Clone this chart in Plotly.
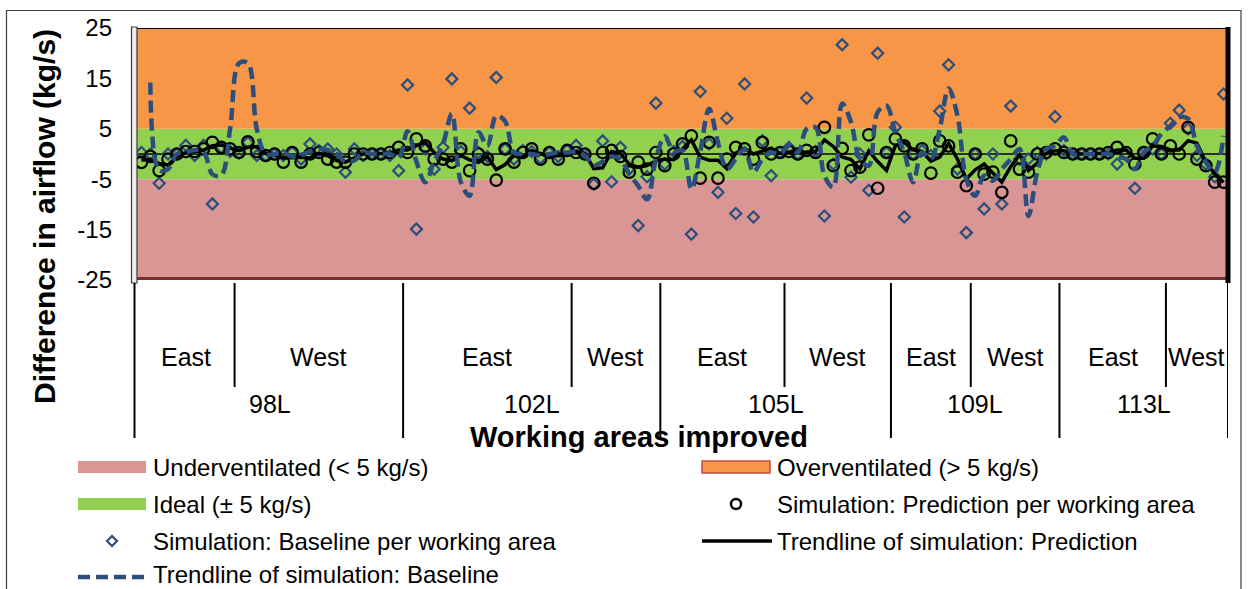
import plotly.graph_objects as go

# ---------------- data ----------------
LEVELS = ["98L", "102L", "105L", "109L", "113L"]
SIDES = ["East", "West"]
AREA_COUNTS = [[11, 19], [19, 10], [14, 12], [9, 10], [12, 7]]   # working areas per level/side

Y_TICKS = [25, 15, 5, -5, -15, -25]

BAND_NAMES = ["Underventilated (< 5 kg/s)", "Ideal (± 5 kg/s)", "Overventilated (> 5 kg/s)"]
BAND_LOW = [-25, -5, 5]
BAND_HIGH = [-5, 5, 25]

BASELINE = [
    0.3, 0, -5.8, 0, 0, 1.7, -0.3, 1.7, -9.9, 1.3, 0.5,
    0.2, 2.3, -0.3, -0.3, 0, -0.3, 0.3, -1, 2, 0.7, 1, 0, -3.6, 1, -0.3, 0, 0, -0.3, -3.3,
    13.7, -14.9, 1, -3, 1.3, 14.9, 0.5, 9.1, 0.3, -0.5, 15.2, 1, -1, 0.7, 0.5, -0.8, 0.3, -0.5, 0.7,
    1.7, 0, -6, 2.6, -5.5, 1.3, -3, -14.2, -4.5, 10.1,
    -2, 0.5, 1.5, -15.9, 12.4, 2, -7.6, 7.1, -11.8, 13.9, -12.5, 2.6, -4.3, 0.3,
    1.3, 0, 11.1, 0.5, -12.3, -2, 21.7, -4.6, 0, -7.2, 20, 0.3,
    5.3, -12.5, 0, 0.7, -0.3, 8.5, 17.7, -3, -15.6,
    0, -10.9, 0, -9.9, 9.5, -1, -1, 0.3, 0, 7.4,
    0.7, 0, 0, 0, 0, 0, -2, 0, -6.8, 0.3, 1, 0,
    6.1, 8.7, 5, -0.3, -2, -4.5, 11.9,
]

PREDICTION = [
    -1.65, -0.5, -3.3, -1, 0, 0.5, 0.5, 1, 2.3, 1.3, 1,
    0.3, 2.4, 0.5, -0.3, 0, -1.6, 0.3, -1.6, 0, 0.3, -1, -1.6, -1.6, 0, 0, 0, 0, 0.3, 1.3,
    0.3, 3, 1.6, -1, -1, -1.6, 1, -3.3, 0, -1, -5.2, 1, -1.6, 0.3, 1, -1, 0.3, -1, 0.7,
    0.3, 0, -5.8, 0.3, 0.7, -0.5, -3.6, -1.6, -3, 0.3,
    -2.3, 0, 2, 3.6, -4.8, 2.3, -4.8, -1, 1.3, 1, -1, 2.3, 0, 0.3,
    0.5, 0, 0.7, 0.3, 5.3, -2.3, 1.1, -3.3, -2.6, 3.8, -6.8, 0.3,
    3, 1.6, 0, 1, -3.8, 2.6, 1.6, -3.6, -6.3,
    0, -4, -3.6, -7.6, 2.6, -3, -3.6, 0, 0.3, 1,
    0.3, 0, 0, 0, 0, 0.3, 1.3, 0.3, -2, 0.3, 3, 0,
    1.6, 0, 5.3, -1, -2.3, -5.6, -5.6,
]

PREDICTION_TREND = [
    -1.2, -1.1, -1.9, -2.2, -0.5, 0.25, 0.5, 0.75, 1.65, 1.8, 1.15,
    0.65, 1.35, 1.45, 0.1, -0.15, -0.8, -0.65, -0.65, -0.8, 0.15, -0.35, -1.3, -1.6, -0.8, 0, 0, 0, 0.15, 0.8,
    0.8, 1.65, 2.3, 0.3, -1, -1.3, -0.3, -1.15, -1.65, -0.5, -3.1, -2.1, -0.3, -0.65, 0.65, 0, -0.35, -0.35, -0.15,
    0.5, 0.15, -2.9, -2.75, 0.5, 0.1, -2.05, -2.6, -2.3, -1.35,
    -1, -1.15, 1, 2.8, -0.6, -1.25, -1.25, -2.9, 0.15, 1.15, 0, 0.65, 1.15, 0.15,
    0.4, 0.25, 0.35, 0.5, 2.8, 1.5, -0.6, -1.1, -2.95, 0.6, -1.5, -3.25,
    1.65, 2.3, 0.8, 0.5, -1.4, -0.6, 2.1, -1, -4.95,
    -3.15, -2, -3.8, -5.6, -2.5, -0.2, -3.3, -1.8, 0.15, 0.65,
    0.65, 0.15, 0, 0, 0, 0.15, 0.8, 0.8, -0.85, -0.85, 1.65, 1.5,
    0.8, 0.8, 2.65, 2.15, -1.65, -3.95, -5.6,
]

BASELINE_TREND = [
    None, 14.2, -3.2, -3, 0, 0.3, 0.8, 0.5, -4, -4.2, 5,
    18, 18, 5, 0, 0, 0.3, -0.5, -0.2, 0.5, 1, 0.8, 0, -1.5, -1.3, 0.3, 0, 0, 0, -0.8,
    4.5, -1.5, -5.6, -1.5, 2, 8, -5.5, -8.3, 4.3, 1.6, 7.6, 6.5, 0.3, 0, 0, -0.3, 0, 0.3, 0.3,
    0.5, -0.3, -2.3, -1.5, -0.5, -1, -4, -6.3, -9, -1,
    3.5, 0.5, 0.7, -7, 0.5, 9, 2.3, -3, -1, 1, -3.6, -1, 0.3, 0,
    1.6, 0.3, 5, 5.3, -4.3, -6.6, 10, 6.3, -1, -2.3, 8.3, 9.6,
    4.3, 0.3, -5.6, 0.3, -1, 5, 13, 7.6, -5,
    -8.3, -4.3, -5.3, -3, -1, 1, -12.3, -3.6, 1, 1.6,
    3.3, 0, 0, 0, 0, 0, -0.5, -1, -3, 0.3, 1.6, 4,
    5.6, 7.3, 7, 1.6, -1.6, -3.6, 3.6,
]

# ---------------- styles ----------------
BAND_COLORS = ["#D99694", "#92D050", "#F79646"]
BLUE = "#2C4E7C"
FONT = "Liberation Sans, Arial, sans-serif"

N = len(BASELINE)
X = list(range(N))

# plot area in pixels (for layout-only helpers)
PL, PR, PT_, PB = 137, 1228, 28, 280
def px(v):
    return (v - PL) / (PR - PL)
def py(v):
    return (PB - v) / (PB - PT_)

fig = go.Figure()

# background bands (bars spanning every working area)
for name, lo, hi, col in zip(BAND_NAMES, BAND_LOW, BAND_HIGH, BAND_COLORS):
    fig.add_trace(go.Bar(
        x=[(N - 1) / 2], y=[hi - lo], base=[lo], width=[N],
        marker=dict(color=col, line=dict(width=0)),
        name=name, showlegend=False, hoverinfo="skip"))

# zero line
fig.add_trace(go.Scatter(x=[-0.5, N - 0.5], y=[0, 0], mode="lines",
                         line=dict(color="black", width=1.6),
                         showlegend=False, hoverinfo="skip"))

fig.add_trace(go.Scatter(
    x=X, y=BASELINE, mode="markers", name="Simulation: Baseline per working area",
    marker=dict(symbol="diamond-open", size=8.5, color=BLUE, line=dict(width=2.2, color=BLUE)),
    showlegend=False))

fig.add_trace(go.Scatter(
    x=X, y=PREDICTION, mode="markers", name="Simulation: Prediction per working area",
    marker=dict(symbol="circle-open", size=11.5, color="black", line=dict(width=2.2, color="black")),
    showlegend=False))

fig.add_trace(go.Scatter(
    x=X, y=PREDICTION_TREND, mode="lines", name="Trendline of simulation: Prediction",
    line=dict(color="black", width=3.5), showlegend=False))

fig.add_trace(go.Scatter(
    x=X, y=BASELINE_TREND, mode="lines", name="Trendline of simulation: Baseline",
    line=dict(color=BLUE, width=4.5, dash="12px,6px", shape="spline", smoothing=1.0),
    showlegend=False))

shapes = []
annotations = []

# plot frame details
shapes.append(dict(type="line", xref="paper", yref="y", x0=px(131), x1=1, y0=25, y1=25,
                   line=dict(color="black", width=2), layer="above"))
shapes.append(dict(type="line", xref="paper", yref="y", x0=0, x1=1, y0=-25, y1=-25,
                   line=dict(color="#782E2C", width=6), layer="above"))
shapes.append(dict(type="line", xref="paper", yref="paper", x0=1, x1=1, y0=py(283), y1=py(27),
                   line=dict(color="black", width=5), layer="above"))
shapes.append(dict(type="rect", xref="paper", yref="paper", x0=px(131.5), x1=px(137), y0=py(283), y1=py(27),
                   line=dict(color="#3a3a3a", width=1.2), fillcolor="#ECECEC", layer="above"))

# outer chart frame
shapes.append(dict(type="rect", xref="paper", yref="paper", x0=px(6.5), x1=px(1241), y0=py(640), y1=py(10.5),
                   line=dict(color="#404040", width=1.2), fillcolor="rgba(0,0,0,0)", layer="above"))

# category dividers and labels
LABEL_FONT = dict(size=25, color="black", family=FONT)
start = 0
level_bounds = [start]
for li, (lev, counts) in enumerate(zip(LEVELS, AREA_COUNTS)):
    lev_start = start
    for si, (side, cnt) in enumerate(zip(SIDES, counts)):
        s0, s1 = start, start + cnt
        annotations.append(dict(x=(s0 + s1 - 1) / 2, y=py(357), xref="x", yref="paper",
                                xanchor="center", yanchor="middle",
                                text=side, showarrow=False, font=LABEL_FONT))
        if si == 0:
            shapes.append(dict(type="line", xref="x", yref="paper", x0=s1 - 0.5, x1=s1 - 0.5,
                               y0=py(283), y1=py(387), line=dict(color="black", width=2)))
        start = s1
    annotations.append(dict(x=(lev_start + start - 1) / 2, y=py(404), xref="x", yref="paper",
                            xanchor="center", yanchor="middle",
                            text=lev, showarrow=False, font=LABEL_FONT))
    level_bounds.append(start)

for b in level_bounds:
    if b == 0:
        shapes.append(dict(type="line", xref="paper", yref="paper", x0=px(134.5), x1=px(134.5),
                           y0=py(283), y1=py(438), line=dict(color="black", width=2)))
    else:
        shapes.append(dict(type="line", xref="x", yref="paper", x0=b - 0.5, x1=b - 0.5,
                           y0=py(283), y1=py(438), line=dict(color="black", width=2)))

# axis titles
annotations.append(dict(x=px(639), y=py(437), xref="paper", yref="paper",
                        xanchor="center", yanchor="middle",
                        text="<b>Working areas improved</b>", showarrow=False,
                        font=dict(size=29, color="black", family=FONT)))
annotations.append(dict(x=px(44), y=py(217), xref="paper", yref="paper", textangle=-90,
                        xanchor="center", yanchor="middle",
                        text="<b>Difference in airflow (kg/s)</b>", showarrow=False,
                        font=dict(size=30, color="black", family=FONT)))

# legend (drawn manually in two columns)
LEG_FONT = dict(size=24, color="black", family=FONT)
def legend_text(xpix, ypix, text, anchor="middle"):
    annotations.append(dict(x=px(xpix), y=py(ypix), xref="paper", yref="paper", text=text,
                            showarrow=False, xanchor="left", yanchor=anchor, borderpad=0,
                            font=LEG_FONT))

def legend_rect(x0, x1, yc, fill, line_col=None):
    shapes.append(dict(type="rect", xref="paper", yref="paper", x0=px(x0), x1=px(x1),
                       y0=py(yc + 6), y1=py(yc - 6), fillcolor=fill,
                       line=dict(color=line_col or fill, width=1.5 if line_col else 0)))

rows = [467, 504, 541, 577]
LX, RX = 152, 776
legend_rect(78, 146, rows[0], BAND_COLORS[0])
legend_text(LX, rows[0], BAND_NAMES[0])
legend_rect(78, 146, rows[1], BAND_COLORS[1])
legend_text(LX, rows[1], BAND_NAMES[1])
# diamond
dcx, dcy, dr = 112, rows[2], 5
shapes.append(dict(type="path", xref="paper", yref="paper",
                   path=f"M{px(dcx - dr)},{py(dcy)} L{px(dcx)},{py(dcy - dr)} L{px(dcx + dr)},{py(dcy)} L{px(dcx)},{py(dcy + dr)} Z",
                   line=dict(color=BLUE, width=2.2), fillcolor="rgba(0,0,0,0)"))
legend_text(LX, rows[2], "Simulation: Baseline per working area")
shapes.append(dict(type="line", xref="paper", yref="paper", x0=px(78), x1=px(150), y0=py(rows[3]), y1=py(rows[3]),
                   line=dict(color=BLUE, width=4.5, dash="12px,6px")))
legend_text(LX, 588.5, "Trendline of simulation: Baseline", anchor="bottom")

legend_rect(702, 770, rows[0], BAND_COLORS[2], "#BE4B48")
legend_text(RX, rows[0], BAND_NAMES[2])
shapes.append(dict(type="circle", xref="paper", yref="paper", x0=px(731), x1=px(741),
                   y0=py(rows[1] + 5), y1=py(rows[1] - 5), line=dict(color="black", width=2.4),
                   fillcolor="rgba(0,0,0,0)"))
legend_text(RX, rows[1], "Simulation: Prediction per working area")
shapes.append(dict(type="line", xref="paper", yref="paper", x0=px(702), x1=px(772), y0=py(rows[2]), y1=py(rows[2]),
                   line=dict(color="black", width=3.5)))
legend_text(RX, rows[2], "Trendline of simulation: Prediction")

fig.update_layout(
    width=1255, height=589,
    margin=dict(l=PL, r=1255 - PR, t=PT_, b=589 - PB),
    paper_bgcolor="white", plot_bgcolor="white",
    barmode="overlay", showlegend=False,
    font=dict(family=FONT, color="black"),
    xaxis=dict(range=[-0.5, N - 0.5], showticklabels=False, showgrid=False, zeroline=False,
               ticks="", showline=False, fixedrange=True),
    yaxis=dict(range=[-25, 25], tickvals=Y_TICKS, ticktext=[str(t) for t in Y_TICKS],
               showgrid=False, zeroline=False, ticks="", showline=False, fixedrange=True,
               tickfont=dict(size=24, color="black", family=FONT), ticklabelstandoff=24),
    shapes=shapes, annotations=annotations,
)

fig.write_html("out.html",
               config={"displayModeBar": False, "staticPlot": True},
               post_script="document.body.style.margin='0px';document.body.style.padding='0px';"
                           "document.body.style.overflow='hidden';")
